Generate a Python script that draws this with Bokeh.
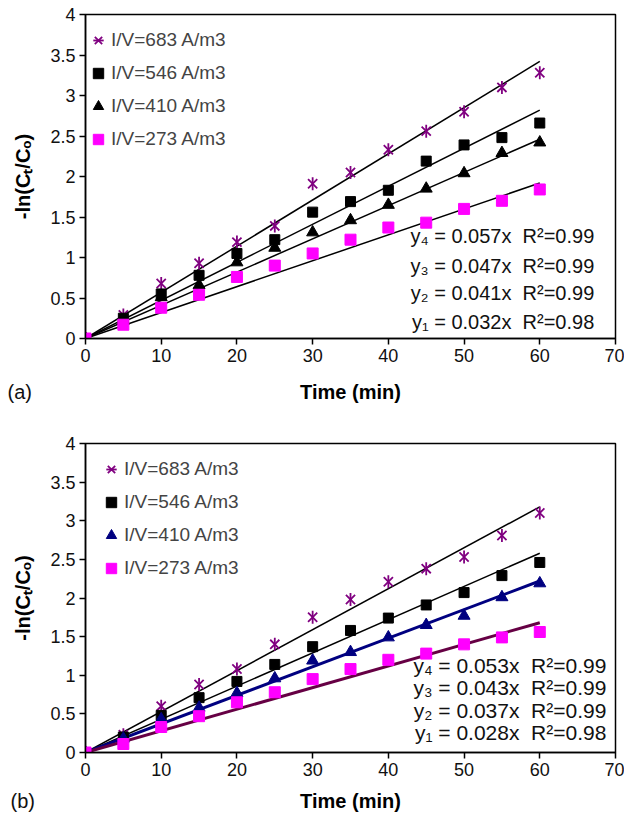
from bokeh.plotting import figure
from bokeh.layouts import column
from bokeh.models import (Range1d, FixedTicker, NumeralTickFormatter, Legend, LegendItem, Label,
                          LinearAxis, Title)
from bokeh.embed import file_html
from bokeh.resources import INLINE
import numpy as np

# ---------------- data ----------------
time_min = [0, 5, 10, 15, 20, 25, 30, 35, 40, 45, 50, 55, 60]
series_names = ["I/V=683 A/m3", "I/V=546 A/m3", "I/V=410 A/m3", "I/V=273 A/m3"]

a_683 = [0, 0.29, 0.68, 0.93, 1.19, 1.39, 1.91, 2.05, 2.33, 2.56, 2.80, 3.10, 3.28]
a_546 = [0, 0.25, 0.55, 0.78, 1.05, 1.22, 1.56, 1.69, 1.83, 2.19, 2.39, 2.48, 2.66]
a_410 = [0, 0.22, 0.51, 0.66, 0.94, 1.12, 1.31, 1.46, 1.65, 1.85, 2.04, 2.29, 2.42]
a_273 = [0, 0.17, 0.38, 0.54, 0.76, 0.90, 1.05, 1.22, 1.37, 1.43, 1.60, 1.70, 1.84]
a_slopes = [0.057, 0.047, 0.041, 0.032]   # y4, y3, y2, y1
a_r2 = ["0.99", "0.99", "0.99", "0.98"]

b_683 = [0, 0.23, 0.60, 0.88, 1.08, 1.40, 1.75, 1.98, 2.21, 2.38, 2.53, 2.81, 3.10]
b_546 = [0, 0.20, 0.48, 0.71, 0.92, 1.14, 1.37, 1.58, 1.74, 1.91, 2.07, 2.29, 2.46]
b_410 = [0, 0.18, 0.43, 0.58, 0.77, 0.96, 1.19, 1.30, 1.49, 1.65, 1.77, 2.01, 2.19]
b_273 = [0, 0.11, 0.33, 0.47, 0.65, 0.78, 0.95, 1.08, 1.20, 1.28, 1.40, 1.49, 1.56]
b_slopes = [0.053, 0.043, 0.037, 0.028]   # y4, y3, y2, y1
b_r2 = ["0.99", "0.99", "0.99", "0.98"]

y_ticks = [0, 0.5, 1, 1.5, 2, 2.5, 3, 3.5, 4]
x_ticks = [0, 10, 20, 30, 40, 50, 60, 70]

FONT = "Liberation Sans"
SUB = str.maketrans("0123456789", "₀₁₂₃₄₅₆₇₈₉")
W = 624


def make_panel(tag, tag_offset, tag_standoff, xlab_standoff, ys, slopes, r2, tri_color,
               line_colors, line_widths, height, b_top, b_bottom, b_left, b_right,
               leg_x, leg_top, eq_x, eq_y, eq_size):
    p = figure(width=W, height=height, output_backend="svg", toolbar_location=None,
               x_range=Range1d(0, 70), y_range=Range1d(0, 4),
               min_border_top=b_top, min_border_bottom=b_bottom,
               min_border_left=b_left, min_border_right=b_right)
    p.grid.visible = False
    p.outline_line_color = "black"
    p.outline_line_width = 1.5
    p.background_fill_color = "white"
    p.border_fill_color = "white"

    for ax in (p.xaxis[0], p.yaxis[0]):
        ax.axis_line_width = 1.5
        ax.major_tick_line_width = 1.5
        ax.major_tick_out = 6
        ax.major_tick_in = 0
        ax.minor_tick_line_color = None
        ax.major_label_text_font = FONT
        ax.major_label_text_font_size = "18px"
        ax.major_label_text_color = "#111111"
        ax.axis_label_text_font = FONT
        ax.axis_label_text_font_style = "bold"
        ax.axis_label_text_color = "black"
    p.xaxis.ticker = FixedTicker(ticks=x_ticks)
    p.yaxis.ticker = FixedTicker(ticks=y_ticks)
    p.yaxis.formatter = NumeralTickFormatter(format="0.[0]")
    p.xaxis.major_label_standoff = 4
    p.yaxis.major_label_standoff = 4
    p.yaxis.axis_label = "-ln(Cₜ/Cₒ)"
    p.yaxis.axis_label_text_font_size = "20px"
    p.yaxis.axis_label_standoff = 13

    # panel tag, left-aligned below the tick labels
    p.add_layout(Title(text=tag, align="left", offset=tag_offset, standoff=tag_standoff,
                       vertical_align="bottom", text_font=FONT, text_font_size="20px",
                       text_font_style="normal", text_color="#111111"), "below")
    # x-axis title on the same row as the tag (outer axis without ticks)
    title_axis = LinearAxis(ticker=FixedTicker(ticks=[]), major_label_standoff=0,
                            major_tick_out=0, major_tick_in=0,
                            axis_line_color=None, major_tick_line_color=None,
                            minor_tick_line_color=None,
                            axis_label="Time (min)", axis_label_standoff=xlab_standoff,
                            axis_label_text_font=FONT, axis_label_text_font_style="bold",
                            axis_label_text_font_size="20px", axis_label_text_color="black")
    p.add_layout(title_axis, "below")

    t = np.array(time_min, dtype=float)
    fit_x = np.array([t[0], t[-1]])
    for s, lc, lw in zip(slopes, line_colors, line_widths):
        p.line(fit_x, s * fit_x, line_color=lc, line_width=lw)

    r_x = p.scatter(t, ys[0], marker="x", size=13, line_color="#800080", line_width=1.8)
    r_d = p.scatter(t, ys[0], marker="dash", angle=np.pi / 2, size=13,
                    line_color="#800080", line_width=1.8)
    r_sq = p.scatter(t, ys[1], marker="square", size=10, fill_color="black", line_color="black")
    r_tr = p.scatter(t, ys[2], marker="triangle", size=12, fill_color=tri_color, line_color=tri_color)
    r_mg = p.scatter(t, ys[3], marker="square", size=11, fill_color="#ff00ff", line_color="#ff00ff")

    items = [LegendItem(label=series_names[0], renderers=[r_x, r_d]),
             LegendItem(label=series_names[1], renderers=[r_sq]),
             LegendItem(label=series_names[2], renderers=[r_tr]),
             LegendItem(label=series_names[3], renderers=[r_mg])]
    frame_h = height - b_top - b_bottom
    leg_h = 4 * 26 + 3 * 7
    legend = Legend(items=items, location=(leg_x, frame_h - leg_top - leg_h),
                    glyph_width=26, glyph_height=26, label_height=26,
                    spacing=7, padding=0, margin=0, label_standoff=0,
                    label_text_font=FONT, label_text_font_size="19px",
                    border_line_color=None, background_fill_alpha=0)
    p.add_layout(legend)

    for i in range(4):
        k = 4 - i
        txt = f"y{str(k).translate(SUB)} = {slopes[i]:.3f}x\u00a0\u00a0R²={r2[i]}"
        p.add_layout(Label(x=eq_x, y=eq_y[i], text=txt, text_align="right",
                           text_baseline="middle", text_font=FONT,
                           text_font_size=eq_size, text_color="#111111"))
    return p


pa = make_panel("(a)", -78, 29, -37, [a_683, a_546, a_410, a_273], a_slopes, a_r2, "black",
                ["black"] * 4, [1.5] * 4,
                height=420, b_top=14, b_bottom=82, b_left=85, b_right=8,
                leg_x=0, leg_top=13, eq_x=67.2, eq_y=[1.27, 0.90, 0.56, 0.20], eq_size="20px")

pb = make_panel("(b)", -75, 19, -32, [b_683, b_546, b_410, b_273], b_slopes, b_r2, "#000080",
                ["black", "black", "#000080", "#660044"], [1.5, 1.5, 3, 3],
                height=401, b_top=23, b_bottom=69, b_left=82, b_right=9,
                leg_x=13, leg_top=13, eq_x=68.8, eq_y=[1.12, 0.84, 0.54, 0.26], eq_size="21px")

layout = column(pa, pb, spacing=0)
open("out.html", "w").write(file_html(layout, INLINE))
